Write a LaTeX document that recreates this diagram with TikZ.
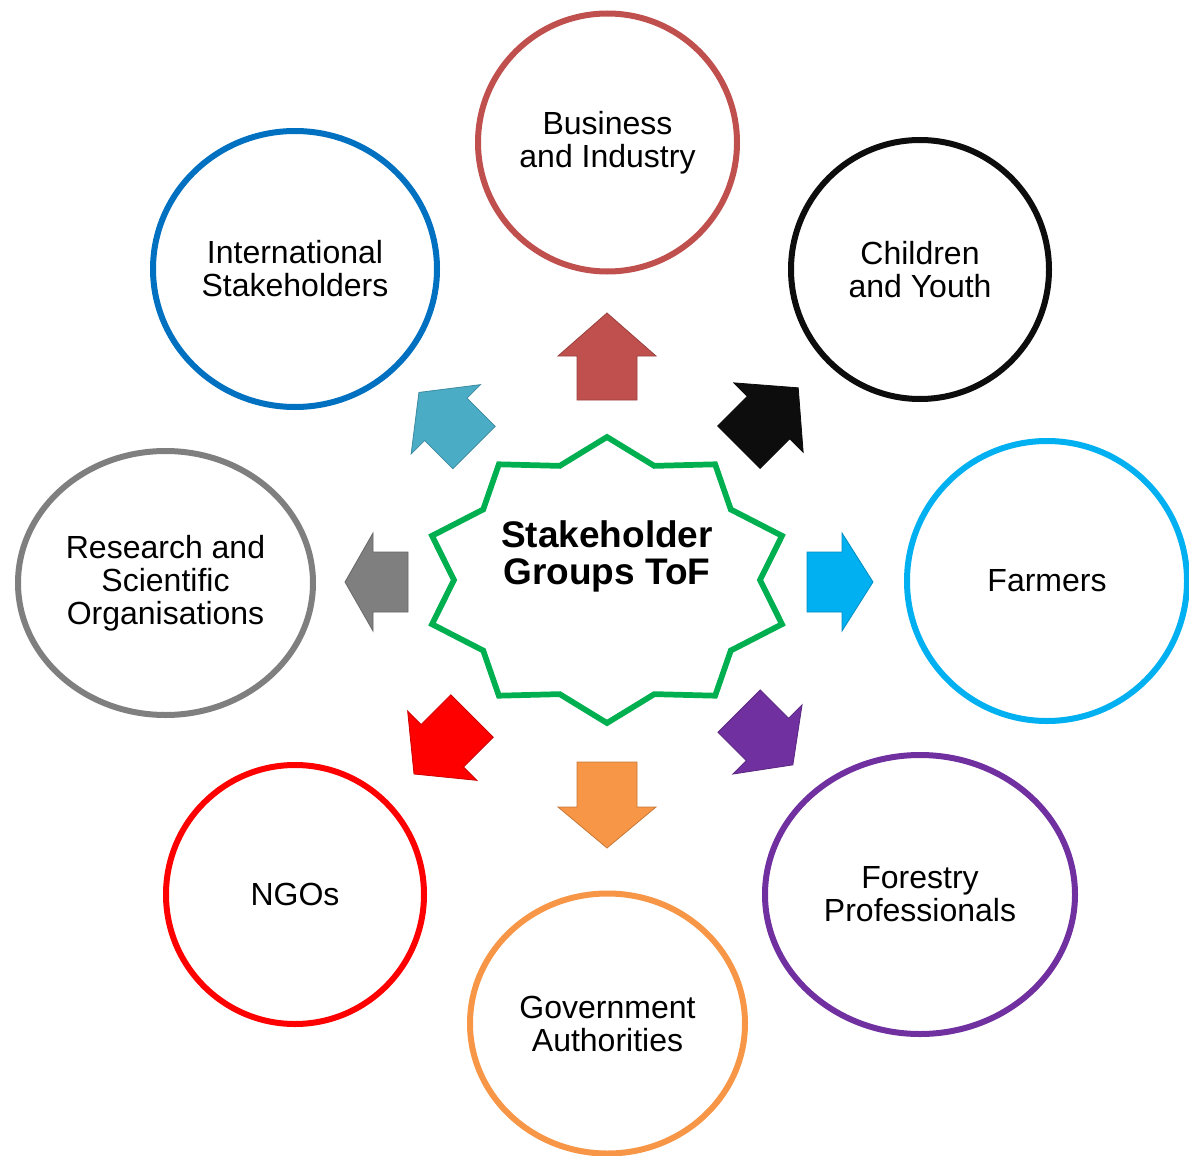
\documentclass[tikz,border=0pt]{standalone}
\usepackage{fontspec}
\setmainfont{Liberation Sans}
\usepackage{tikz}
\usetikzlibrary{shapes.geometric}

\definecolor{bizred}{HTML}{C0504D}
\definecolor{kidblack}{HTML}{0D0D0D}
\definecolor{farmblue}{HTML}{00B0F0}
\definecolor{forestpurple}{HTML}{7030A0}
\definecolor{govorange}{HTML}{F79646}
\definecolor{ngored}{HTML}{FF0000}
\definecolor{resgray}{HTML}{7F7F7F}
\definecolor{intblue}{HTML}{0070C0}
\definecolor{intarrow}{HTML}{4BACC6}
\definecolor{hubgreen}{HTML}{00B050}

\begin{document}
\begin{tikzpicture}[x=0.75pt,y=0.75pt,yscale=-1,xscale=1,
  group/.style={ellipse, draw=#1, line width=4.5pt, inner sep=0pt, align=center,
    font=\fontsize{24}{24.75}\selectfont},
  hubline/.style={draw=hubgreen, line width=4.3pt},
  pics/blockarrow/.style n args={3}{code={
    \fill[#3, draw=#3!80!black, line width=0.6pt]
      ({-#1/2},-30) -- ({#1/2-#2},-30) -- ({#1/2-#2},-49) -- ({#1/2},0)
      -- ({#1/2-#2},49) -- ({#1/2-#2},30) -- ({-#1/2},30) -- cycle;}}]
\useasboundingbox (0,0) rectangle (1189,1156);
%Star [hub]
\draw[hubline, shift={(607,580)}] (0,143)
  \foreach \k [evaluate=\k as \a using {90+18*\k},
               evaluate=\k as \rx using {184-31*mod(\k,2)},
               evaluate=\k as \ry using {143-23*mod(\k,2)}] in {1,...,19}
  { -- ({\rx*cos(\a)},{\ry*sin(\a)}) } -- cycle;
% Text Node
\node[font=\bfseries\fontsize{27.75}{27.75}\selectfont, align=center, inner sep=0pt] (hub) at (607,556) {Stakeholder\\Groups ToF};
%Circles
\node[group=bizred, minimum width=194.25pt, minimum height=193.5pt] (biz) at (607.5,142.5) {Business\\and Industry};
\node[group=kidblack, minimum width=193.5pt, minimum height=194.25pt] (kids) at (920,269.5) {Children\\and Youth};
\node[group=farmblue, minimum width=210pt, minimum height=210pt] (farm) at (1047,581) {Farmers};
\node[group=forestpurple, minimum width=232.5pt, minimum height=209.25pt] (forest) at (920,894.5) {Forestry\\Professionals};
\node[group=govorange, minimum width=206.25pt, minimum height=195pt] (gov) at (607.5,1023.5) {Government\\Authorities};
\node[group=ngored, minimum width=193.5pt, minimum height=194.25pt] (ngo) at (295,894.5) {NGOs};
\node[group=resgray, minimum width=221.25pt, minimum height=198pt] (res) at (165.5,583) {Research and\\Scientific\\Organisations};
\node[group=intblue, minimum width=213pt, minimum height=207pt] (intl) at (295,269) {International\\Stakeholders};
%Arrows
\pic[rotate=90] (aup) at (607,356.5) {blockarrow={87}{43}{bizred}};
\pic[rotate=45] (ane) at (768.5,417.5) {blockarrow={84}{42}{kidblack}};
\pic[rotate=0] (aright) at (840,582) {blockarrow={66}{31}{farmblue}};
\pic[rotate=-45] (ase) at (766,738) {blockarrow={76}{36}{forestpurple}};
\pic[rotate=-90] (adown) at (607,805) {blockarrow={86}{41}{govorange}};
\pic[rotate=-135] (asw) at (443,745) {blockarrow={82}{40}{ngored}};
\pic[rotate=180] (aleft) at (376.5,582) {blockarrow={63}{28}{resgray}};
\pic[rotate=135] (anw) at (446.5,420) {blockarrow={78}{38}{intarrow}};
\end{tikzpicture}
\end{document}
